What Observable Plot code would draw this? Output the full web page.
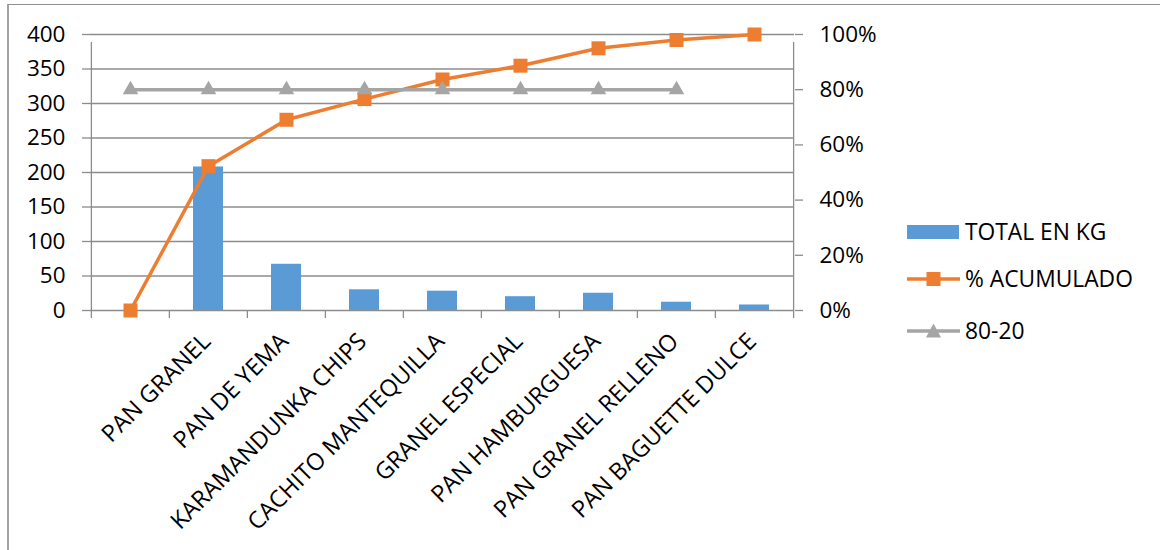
<!DOCTYPE html>
<html>
<head>
<meta charset="utf-8">
<script src="https://cdn.jsdelivr.net/npm/d3@7"></script>
<script src="https://cdn.jsdelivr.net/npm/@observablehq/plot@0.6"></script>
<style>
  body { margin: 0; background: #fff; }
  #chart { position: relative; width: 1160px; height: 550px; overflow: hidden; font-family: "Open Sans", sans-serif; }
  #frame { position: absolute; left: 7px; top: 4px; right: -10px; bottom: -10px;
           border-left: 2px solid #a3a3a3; border-top: 1.5px solid #8f8f8f; }
  #chart svg { position: absolute; left: 0; top: 0; }
  .legend { position: absolute; left: 906px; font-size: 22.8px; color: #000; line-height: 1; }
  .legend .item { position: absolute; left: 0; height: 30px; width: 250px; }
  .legend .key { position: absolute; left: 0; top: 0; width: 54px; height: 30px; }
  .legend .lab { position: absolute; left: 59px; top: 50%; transform: translateY(-50%); white-space: nowrap; }
</style>
</head>
<body>
<div id="chart"><div id="frame"></div></div>
<script>
// Pareto of bread production (kg) with cumulative share and the 80 % reference
const categories = ["", "PAN GRANEL", "PAN DE YEMA", "KARAMANDUNKA CHIPS", "CACHITO MANTEQUILLA",
  "GRANEL ESPECIAL", "PAN HAMBURGUESA", "PAN GRANEL RELLENO", "PAN BAGUETTE DULCE"];
const totalKg = [null, 208, 67, 30, 28, 20, 25, 12, 8];
const pctAcumulado = [0, 52.3, 69.1, 76.6, 83.7, 88.7, 95.0, 98.0, 100];
const ref8020 = [80, 80, 80, 80, 80, 80, 80, 80, null];
const kgTicks = [0, 50, 100, 150, 200, 250, 300, 350, 400];
const pctTicks = [0, 20, 40, 60, 80, 100];
const seriesNames = ["TOTAL EN KG", "% ACUMULADO", "80-20"];

const BLUE = "#5b9bd5", ORANGE = "#ed7d31", GREY = "#a5a5a5", AXIS = "#8c8c8c";
const W = 1160, H = 550, ML = 90, MR = 366, MT = 34, MB = 240;
const bw = (W - ML - MR) / categories.length;
const K = 400 / 100; // secondary axis: 100 % lines up with 400 kg

const rows = categories.map((c, i) => ({cat: c, kg: totalKg[i], pct: pctAcumulado[i], ref: ref8020[i]}));
const last = categories[categories.length - 1];

const chart = Plot.plot({
  width: W, height: H,
  marginLeft: ML, marginRight: MR, marginTop: MT, marginBottom: MB,
  style: {fontFamily: "'Open Sans', sans-serif", fontSize: "22.5px", color: "#000", background: "transparent"},
  x: {type: "band", domain: categories, padding: 0},
  y: {domain: [0, 400]},
  marks: [
    // horizontal gridlines
    Plot.ruleY(kgTicks, {stroke: AXIS, strokeWidth: 1.3}),
    // bars
    Plot.barY(rows.filter(d => d.kg != null), {x: "cat", y: "kg", fill: BLUE, insetLeft: 24, insetRight: 24}),
    // category boundary tick marks below the baseline
    Plot.ruleX(categories, {x: d => d, dx: -bw / 2, y1: 0, y2: 0, insetBottom: -8, stroke: AXIS, strokeWidth: 1.3}),
    Plot.ruleX([last], {x: d => d, dx: bw / 2, y1: 0, y2: 0, insetBottom: -8, stroke: AXIS, strokeWidth: 1.3}),
    // left and right axis lines
    Plot.ruleX([categories[0]], {x: d => d, dx: -bw / 2, y1: 0, y2: 400, insetBottom: -8, stroke: AXIS, strokeWidth: 1.3}),
    Plot.ruleX([last], {x: d => d, dx: bw / 2, y1: 0, y2: 400, insetBottom: -8, stroke: AXIS, strokeWidth: 1.3}),
    // axes
    Plot.axisY(kgTicks, {anchor: "left", tickSize: 8, tickPadding: 17, stroke: AXIS, strokeWidth: 1.3, fill: "#000", label: null}),
    Plot.axisY(pctTicks.map(p => p * K), {anchor: "right", tickSize: 8, tickPadding: 17, stroke: AXIS, strokeWidth: 1.3,
      fill: "#000", tickFormat: d => `${d / K}%`, label: null}),
    Plot.axisX({tickRotate: -45, tickSize: 0, tickPadding: 27, dx: -2, fontSize: 23.5, fill: "#000", label: null}),
    // cumulative percentage
    Plot.line(rows, {x: "cat", y: d => d.pct * K, stroke: ORANGE, strokeWidth: 3.5}),
    Plot.dot(rows, {x: "cat", y: d => d.pct * K, symbol: "square", r: 7.9, fill: ORANGE, stroke: "none"}),
    // 80-20 reference
    Plot.line(rows.filter(d => d.ref != null), {x: "cat", y: d => d.ref * K, stroke: GREY, strokeWidth: 3.5}),
    Plot.dot(rows.filter(d => d.ref != null), {x: "cat", y: d => d.ref * K, symbol: "triangle", r: 5.8, fill: GREY, stroke: "none"})
  ]
});
document.getElementById("chart").appendChild(chart);

// legend
const legend = document.createElement("div");
legend.className = "legend";
legend.style.top = "0px";
const keys = [
  `<svg width="54" height="30"><rect x="1" y="8" width="52" height="14" fill="${BLUE}"/></svg>`,
  `<svg width="54" height="30"><line x1="1" x2="54" y1="15" y2="15" stroke="${ORANGE}" stroke-width="3.5"/><rect x="20.5" y="8" width="14" height="14" fill="${ORANGE}"/></svg>`,
  `<svg width="54" height="30"><line x1="1" x2="54" y1="15" y2="15" stroke="${GREY}" stroke-width="3.5"/><path d="M27.5,7.5 L35,21.5 L20,21.5 Z" fill="${GREY}"/></svg>`
];
const centers = [232, 279, 331];
seriesNames.forEach((name, i) => {
  const item = document.createElement("div");
  item.className = "item";
  item.style.top = (centers[i] - 15) + "px";
  item.innerHTML = `<div class="key">${keys[i]}</div><div class="lab">${name}</div>`;
  legend.appendChild(item);
});
document.getElementById("chart").appendChild(legend);
</script>
</body>
</html>
